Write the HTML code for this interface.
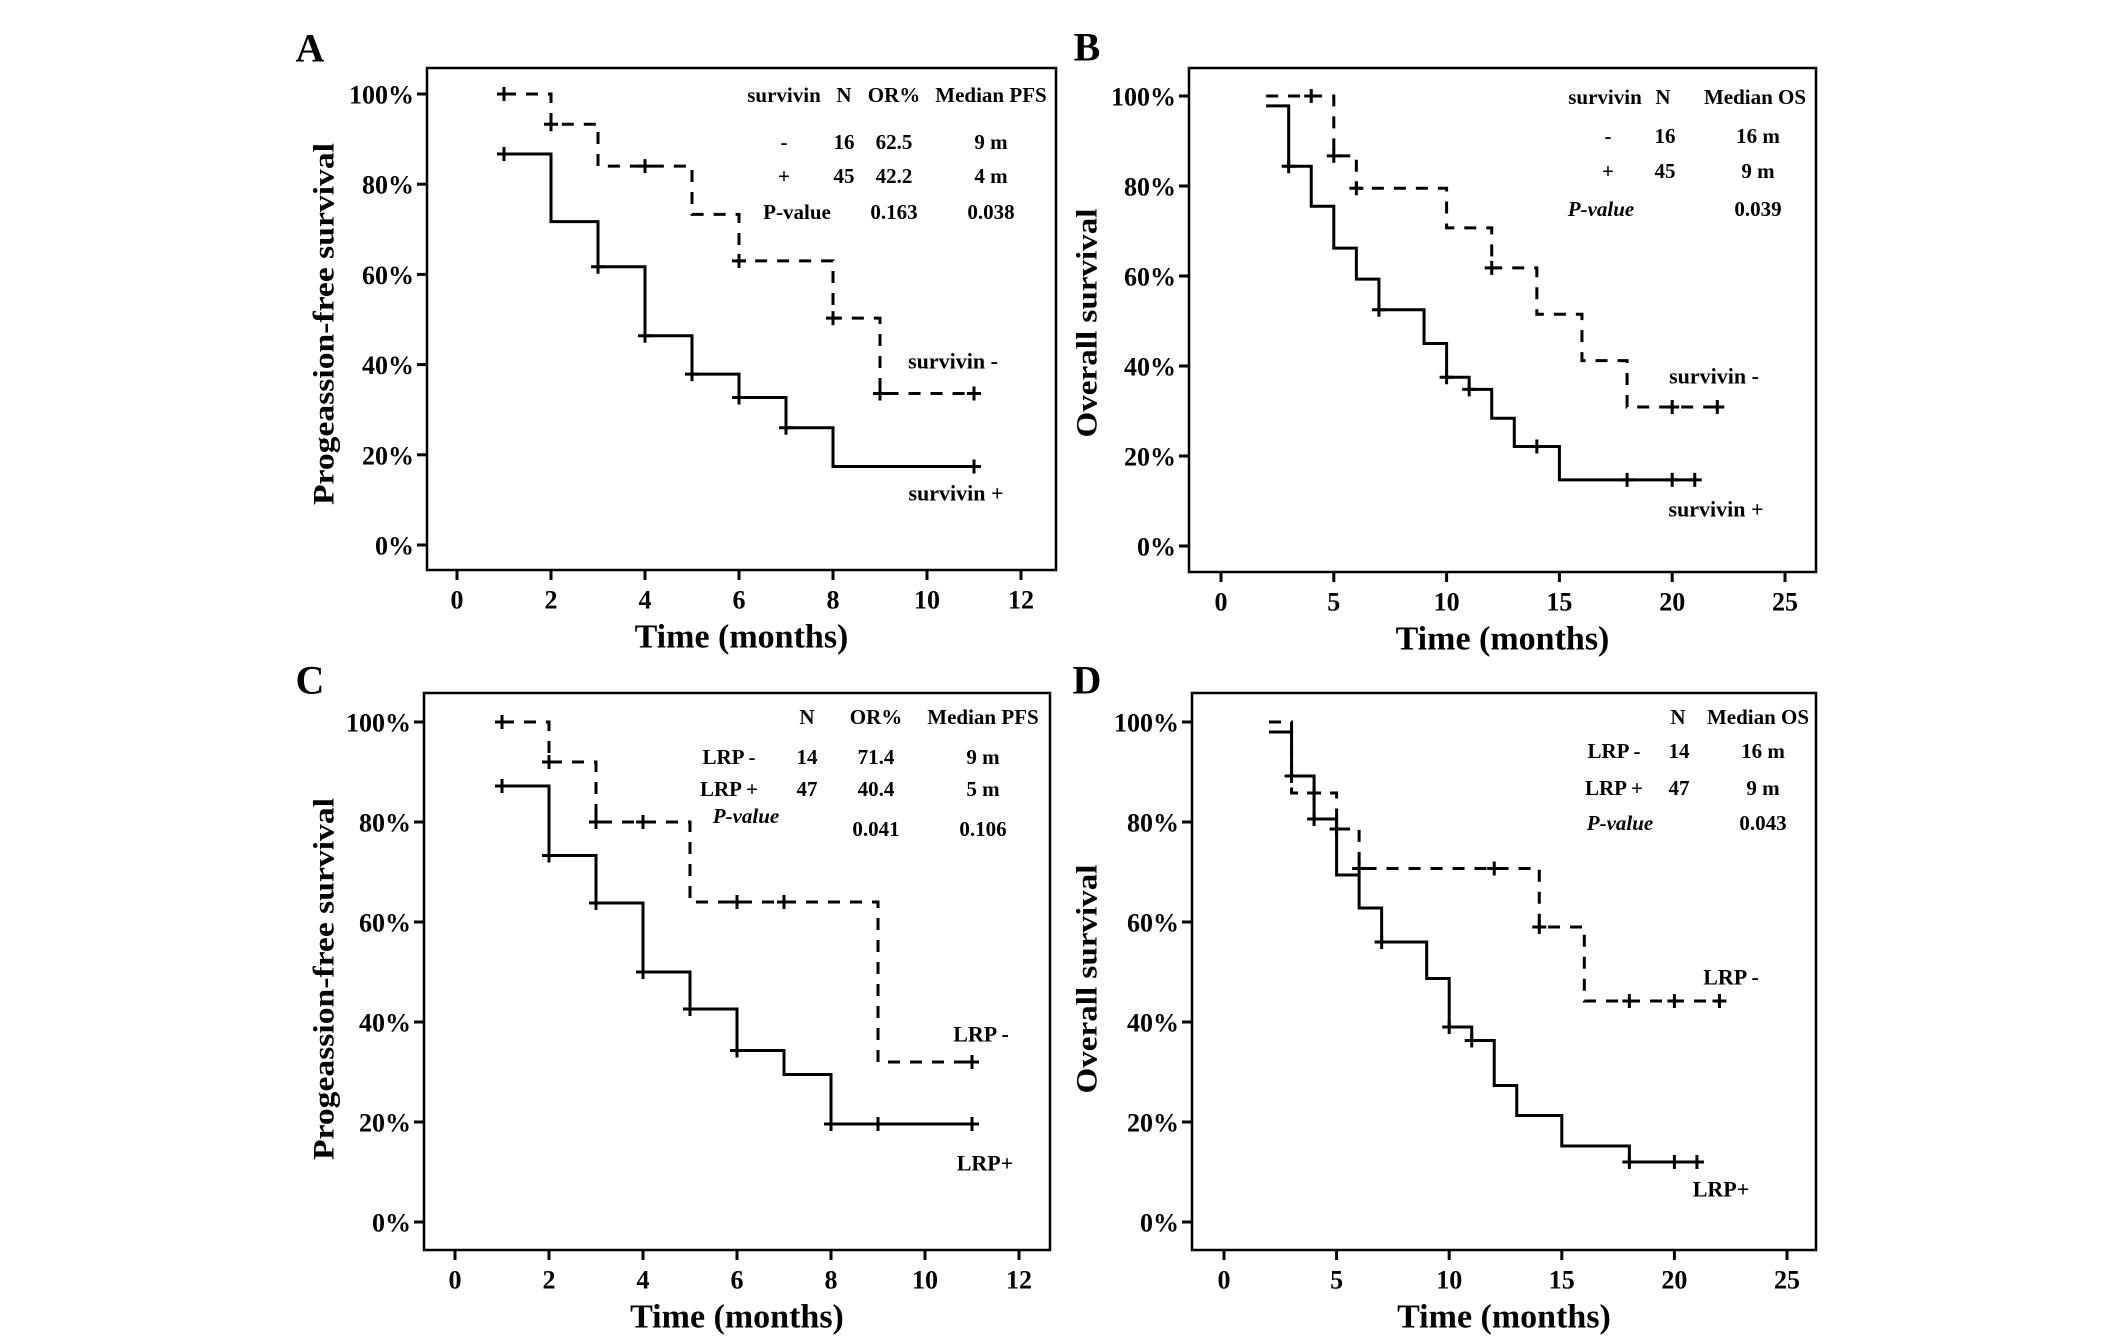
<!DOCTYPE html>
<html><head><meta charset="utf-8"><style>
html,body{margin:0;padding:0;background:#fff;}
svg{display:block;}
text{font-family:"Liberation Serif",serif;font-weight:bold;fill:#000;}
</style></head><body>
<svg id="fig" width="2126" height="1339" viewBox="0 0 2126 1339" xmlns="http://www.w3.org/2000/svg"></svg>
<script>
// Panel A data (PFS by survivin)
const aDashT=[1,2,3,5,6,8,9,11]; const aDashS=[100,93.3,84,73.3,63,50.3,33.6,33.6]; const aDashC=[1,2,4,6,8,9,11];
const aSolT=[1,2,3,4,5,6,7,8,11]; const aSolS=[86.7,71.7,61.7,46.4,37.9,32.7,26,17.4,17.4]; const aSolC=[1,3,4,5,6,7,11];
// Panel B data (OS by survivin)
const bDashT=[2,5,6,10,12,14,16,18,22]; const bDashS=[100,86.7,79.5,70.7,61.8,51.5,41.2,30.9,30.9]; const bDashC=[4,5,6,12,20,22];
const bSolT=[2,3,4,5,6,7,9,10,11,12,13,15,21]; const bSolS=[97.8,84.4,75.5,66.2,59.3,52.5,45,37.5,34.8,28.4,22.1,14.7,14.7]; const bSolC=[3,7,10,11,14,18,20,21];
// Panel C data (PFS by LRP)
const cDashT=[1,2,3,5,9,11]; const cDashS=[100,92,80,64,32,32]; const cDashC=[1,2,3,4,6,7,11];
const cSolT=[1,2,3,4,5,6,7,8,11]; const cSolS=[87.2,73.3,63.8,50,42.6,34.3,29.5,19.6,19.6]; const cSolC=[1,2,3,4,5,6,8,9,11];
// Panel D data (OS by LRP)
const dDashT=[2,3,5,6,14,16,22]; const dDashS=[100,85.8,78.6,70.7,59,44.2,44.2]; const dDashC=[4,5,6,12,14,18,20,22];
const dSolT=[2,3,4,5,6,7,9,10,11,12,13,15,18,21]; const dSolS=[98,89.2,80.6,69.4,62.8,56,48.7,39,36.3,27.3,21.3,15.2,12,12]; const dSolC=[3,4,7,10,11,18,20,21];
const pctTicks=[0,20,40,60,80,100];
const monthTicks12=[0,2,4,6,8,10,12];
const monthTicks25=[0,5,10,15,20,25];

const NS="http://www.w3.org/2000/svg";
const svg=document.getElementById('fig');
function mk(tag,attrs,parent){const e=document.createElementNS(NS,tag);for(const k in attrs)e.setAttribute(k,attrs[k]);(parent||svg).appendChild(e);return e;}
function txt(s,x,y,size,parent,anchor,extra){const t=mk('text',{x:x,y:y,'font-size':size,'text-anchor':anchor||'middle','dominant-baseline':'central'},parent);if(extra)for(const k in extra)t.setAttribute(k,extra[k]);t.textContent=s;return t;}

function panel(p){
  const g=mk('g',{});
  
  
  const xs=v=>p.x0+(v-p.xmin)*(p.x1-p.x0)/(p.xmax-p.xmin);
  const ys=v=>p.y0-(v)*(p.y0-p.y100)/100;
  const lab=txt(p.letter,p.lx,p.ly,40,g,'middle');
  
  
  const box=mk('rect',{x:p.bl,y:p.bt,width:p.br-p.bl,height:p.bb-p.bt,fill:'none',stroke:'#000','stroke-width':2.5},g);
  
  
  pctTicks.forEach(v=>{
    mk('line',{x1:p.bl-10,x2:p.bl,y1:ys(v),y2:ys(v),stroke:'#000','stroke-width':3},g);
    const t=txt(v+'%',p.bl-13,ys(v)+1,26,g,'end');
    
    
  });
  p.xt.forEach(v=>{
    mk('line',{x1:xs(v),x2:xs(v),y1:p.bb,y2:p.bb+10,stroke:'#000','stroke-width':3},g);
    const t=txt(String(v),xs(v),p.bb+30,26,g,'middle');
    
    
  });
  const xt=txt('Time (months)',(p.bl+p.br)/2,p.bb+67,34,g,'middle');
  
  
  const ycx=p.ytx, ycy=p.ytc;
  const yt=txt(p.ytitle,ycx,ycy,30,g,'middle',{transform:'rotate(-90 '+ycx+' '+ycy+')',textLength:p.ytl,lengthAdjust:'spacingAndGlyphs'});
  
  
  function curve(T,S,C,dashed,name){
    let d='M'+xs(T[0])+' '+ys(S[0]);
    for(let i=1;i<T.length;i++){d+=' H'+xs(T[i])+' V'+ys(S[i]);}
    const path=mk('path',{d:d,fill:'none',stroke:'#000','stroke-width':3,'stroke-dasharray':dashed?'12 10':'none'},g);
    
    
    C.forEach(c=>{
      let s=S[0];for(let i=0;i<T.length;i++){if(T[i]<=c)s=S[i];}
      const m=mk('path',{d:'M'+(xs(c)-7)+' '+ys(s)+' h14 M'+xs(c)+' '+(ys(s)-7)+' v14',stroke:'#000','stroke-width':3},g);
      
      
    });
  }
  curve(p.sT,p.sS,p.sC,false,p.solidName);
  curve(p.dT,p.dS,p.dC,true,p.dashName);
  p.table.forEach(r=>{const t=txt(r[0],r[1],r[2],21,g,'middle',r[3]?{'font-style':'italic'}:null);
    
    });
  p.labels.forEach(r=>{const t=txt(r[0],r[1],r[2],22,g,'middle');
    
    });
}

panel({id:'a',letter:'A',lx:310,ly:48,bl:427,br:1056,bt:68,bb:570,x0:457,x1:1021,xmin:0,xmax:12,y100:94,y0:545,xt:monthTicks12,
  ytitle:'Progeassion-free survival',ytx:324,ytc:324,ytl:362,
  sT:aSolT,sS:aSolS,sC:aSolC,dT:aDashT,dS:aDashS,dC:aDashC,solidName:'survivin-positive',dashName:'survivin-negative',
  table:[['survivin',784,95],['N',844,95],['OR%',894,95],['Median PFS',991,95],
   ['-',784,142],['16',844,142],['62.5',894,142],['9 m',991,142],
   ['+',784,176],['45',844,176],['42.2',894,176],['4 m',991,176],
   ['P-value',797,212],['0.163',894,212],['0.038',991,212]],
  labels:[['survivin -',953,361],['survivin +',956,493]]});
panel({id:'b',letter:'B',lx:1087,ly:47,bl:1189,br:1816,bt:68,bb:572,x0:1221,x1:1785,xmin:0,xmax:25,y100:96,y0:546,xt:monthTicks25,
  ytitle:'Overall survival',ytx:1087,ytc:323,ytl:229,
  sT:bSolT,sS:bSolS,sC:bSolC,dT:bDashT,dS:bDashS,dC:bDashC,solidName:'survivin-positive',dashName:'survivin-negative',
  table:[['survivin',1605,97],['N',1663,97],['Median OS',1755,97],
   ['-',1608,136],['16',1665,136],['16 m',1758,136],
   ['+',1608,171],['45',1665,171],['9 m',1758,171],
   ['P-value',1601,209,true],['0.039',1758,209]],
  labels:[['survivin -',1714,376],['survivin +',1716,509]]});
panel({id:'c',letter:'C',lx:310,ly:680,bl:424,br:1050,bt:693,bb:1250,x0:455,x1:1019,xmin:0,xmax:12,y100:722,y0:1222,xt:monthTicks12,
  ytitle:'Progeassion-free survival',ytx:324,ytc:979,ytl:362,
  sT:cSolT,sS:cSolS,sC:cSolC,dT:cDashT,dS:cDashS,dC:cDashC,solidName:'lrp-positive',dashName:'lrp-negative',
  table:[['N',807,717],['OR%',876,717],['Median PFS',983,717],
   ['LRP -',729,757],['14',807,757],['71.4',876,757],['9 m',983,757],
   ['LRP +',729,789],['47',807,789],['40.4',876,789],['5 m',983,789],
   ['P-value',746,816,true],['0.041',876,829],['0.106',983,829]],
  labels:[['LRP -',981,1034],['LRP+',985,1163]]});
panel({id:'d',letter:'D',lx:1087,ly:680,bl:1192,br:1816,bt:693,bb:1250,x0:1224,x1:1787,xmin:0,xmax:25,y100:722,y0:1222,xt:monthTicks25,
  ytitle:'Overall survival',ytx:1087,ytc:979,ytl:229,
  sT:dSolT,sS:dSolS,sC:dSolC,dT:dDashT,dS:dDashS,dC:dDashC,solidName:'lrp-positive',dashName:'lrp-negative',
  table:[['N',1678,717],['Median OS',1758,717],
   ['LRP -',1614,751],['14',1679,751],['16 m',1763,751],
   ['LRP +',1614,788],['47',1679,788],['9 m',1763,788],
   ['P-value',1620,823,true],['0.043',1763,823]],
  labels:[['LRP -',1731,977],['LRP+',1721,1189]]});
</script>
</body></html>
